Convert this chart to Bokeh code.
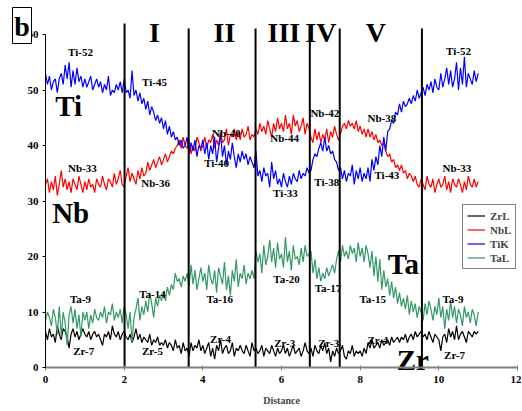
from bokeh.plotting import figure
from bokeh.models import Range1d, LinearAxis, FixedTicker, Legend, LegendItem
from bokeh.core.properties import value
from bokeh.embed import file_html
from bokeh.resources import INLINE

# ---- data (sampled every 0.05 of Distance, from 0 to 11) ----
step = 0.05
zr_l = [6.5, 5, 7, 5.5, 6, 4.5, 7.5, 6, 5, 7, 6.5, 5.5, 3.5, 6, 7, 5.5, 6.5, 5, 6, 7,
        6, 5.5, 6.5, 5, 6, 6.5, 5.5, 6, 5, 4, 6, 5.5, 6.5, 5, 7.5, 6, 5.5, 6.5, 5, 6,
        6.5, 5.5, 5, 6, 4.5, 5.5, 7, 5, 6, 4.5, 5.5, 5, 4.5, 6, 4, 5, 4.5, 5.5, 4, 4.5,
        4, 5, 3.5, 4.5, 4, 3, 5, 3.5, 4, 2.5, 4.5, 3, 3.5, 2, 4.5, 3, 4, 3.5, 5, 3,
        4, 2.5, 3.5, 4.5, 2, 3.5, 1.5, 4, 3, 5, 2.5, 3.5, 4, 2.5, 3, 4.5, 2, 3.5, 3, 4,
        3, 2.5, 4, 3, 2, 4.5, 3, 3.5, 2.5, 3, 4, 2, 3.5, 3, 2.5, 4, 3, 2, 3.5, 2.5,
        3, 4, 2.5, 3.5, 2, 3, 4, 2.5, 3, 3.5, 2, 3, 4.5, 3, 2.5, 3.5, 2, 4, 3, 2.5,
        4, 3, 4.5, 2.5, 3.5, 1, 3, 2, 3.5, 2.5, 3, 4, 2, 1.5, 3, 2.5, 4, 2, 3, 2.5,
        3, 2, 3.5, 2.5, 4.5, 3.5, 5, 3.5, 4, 4.5, 3.5, 5, 4, 4.5, 5, 4, 5.5, 4.5, 5, 5.5,
        4.5, 5.5, 5, 6, 4.5, 5.5, 6, 5, 6.5, 5.5, 6, 6.5, 5.5, 6, 5, 6.5, 5.5, 4.5, 6, 5.5,
        5, 3, 5.5, 6, 4.5, 7, 5.5, 6.5, 5, 7.5, 5, 6, 6.5, 5.5, 4.5, 6.5, 6, 5.5, 6.5, 6,
        6.5]
nb_l = [33, 34, 31.5, 33.5, 32, 34.5, 31, 33, 35.5, 32.5, 34, 32, 33.5, 31.5, 34, 33, 32, 34.5, 33, 31.5,
        33.5, 32, 34, 32.5, 33, 31.5, 34, 33, 32.5, 34.5, 33, 32, 34, 33.5, 32.5, 35, 33, 34, 35.5, 33,
        32.5, 34.5, 36, 33.5, 35, 34, 33, 35.5, 34, 36, 34.5, 35, 37, 35.5, 36.5, 37.5, 36, 37, 38, 36.5,
        37.5, 38.5, 37, 38, 39, 38.5, 39.5, 40, 41, 39.5, 41.5, 40, 39.5, 41, 38.5, 40, 39, 41.5, 40.5, 39,
        40, 41.5, 39.5, 41, 40.5, 42, 39.5, 41, 40, 42.5, 40.5, 41, 43, 40, 42, 41.5, 43, 41, 42.5, 41,
        43, 41.5, 42, 43.5, 41, 42, 41.5, 43, 42, 44, 42.5, 43.5, 42, 44.5, 43, 41.5, 44, 42.5, 45, 43,
        44, 42.5, 45.5, 43, 44, 42, 45.5, 43.5, 44.5, 42.5, 43.5, 45, 42, 44, 43, 41.5, 40.5, 43, 41, 42.5,
        40.5, 42, 41, 43, 40.5, 42.5, 41.5, 43.5, 42, 41, 42, 43.5, 44, 43, 44.5, 43.5, 44, 43, 44.5, 42.5,
        43.5, 42, 43, 41.5, 43, 41.5, 42.5, 41, 42, 40.5, 41, 40, 40.5, 39, 38, 38.5, 37, 37.5, 36, 36.5,
        35.5, 36.5, 35, 35.5, 34, 35, 34.5, 33.5, 34.5, 33, 32.5, 34, 33, 32, 34.5, 33, 32.5, 34, 31.5, 33,
        34, 32.5, 33, 34.5, 32, 33.5, 31.5, 34, 33, 32.5, 34, 33, 31.5, 33.5, 32, 34.5, 33, 32.5, 34, 32.5,
        33.5]
ti_k = [53, 51, 52.5, 50, 51.5, 52, 49.5, 52, 53, 51, 54.5, 52, 55, 50.5, 53.5, 51, 54, 51.5, 52.5, 50.5,
        52, 50.5, 51.5, 52.5, 50, 51, 52, 50.5, 51.5, 49.5, 51, 50, 52.5, 49, 50, 49.5, 51, 50, 51.5, 49.5,
        52, 49.5, 50, 48.5, 53.5, 49, 50, 48, 49.5, 47.5, 48.5, 46.5, 48, 45.5, 47, 46, 44.5, 45.5, 44, 45,
        43, 44.5, 42, 43.5, 41.5, 42.5, 41, 41.5, 40, 41, 39.5, 40, 41.5, 38.5, 40.5, 39, 41, 38, 40, 39.5,
        41, 38.5, 40.5, 37.5, 40, 38.5, 41.5, 37, 39.5, 42, 38, 40, 36.5, 39, 37.5, 40.5, 38, 36, 38.5, 37,
        39, 37.5, 38.5, 36.5, 38, 37, 36, 39, 34.5, 35.5, 33.5, 36, 34.5, 35, 32.5, 37, 34, 35.5, 33, 34,
        32.5, 35, 33.5, 32.5, 34.5, 33, 35, 34, 33.5, 35.5, 34, 35, 34.5, 36, 35, 35.5, 37.5, 38.5, 38, 39.5,
        40.5, 39, 41.5, 39, 40, 38.5, 39, 37.5, 37, 35.5, 36, 34, 35.5, 33.5, 35, 34.5, 36.5, 33, 35.5, 34,
        36, 33.5, 35, 34, 36, 33.5, 37.5, 35.5, 38, 36.5, 40, 38, 41.5, 39, 42.5, 43, 44.5, 44, 46, 45.5,
        47.5, 46, 48, 47, 47.5, 48.5, 47.5, 49, 48, 50, 48.5, 49.5, 50.5, 49, 51, 50, 51.5, 49.5, 52, 50.5,
        50, 53, 50.5, 52, 54, 51, 53.5, 50.5, 52, 55, 50, 54, 51, 56, 50.5, 53, 52, 51, 53.5, 51.5,
        53]
ta_l = [8.5, 10, 9, 7.5, 10.5, 9, 6, 11, 5.5, 10, 8, 4, 9.5, 11, 8, 10.5, 7, 9.5, 5.5, 10,
        8.5, 10, 7, 9.5, 8, 10.5, 9, 8.5, 10, 9, 11, 8, 10, 9.5, 11.5, 8.5, 10, 9, 10.5, 8,
        11, 9.5, 7, 10, 4.5, 9, 10.5, 12.5, 8.5, 11, 9.5, 12, 10, 13.5, 11.5, 9, 12.5, 11, 13, 12,
        13.5, 12, 14.5, 13, 15, 14, 17, 15.5, 16, 14.5, 16.5, 15.5, 17, 14.5, 18.5, 15, 17.5, 14, 16, 18,
        15.5, 17, 14, 18.5, 16, 15, 17.5, 13.5, 18, 16.5, 15, 19, 14, 16.5, 13, 17.5, 15.5, 19.5, 14.5, 17,
        16, 18.5, 15, 17, 16, 17.5, 16, 21, 19, 20.5, 17, 22, 18.5, 20, 23, 19, 21.5, 18, 22.5, 19.5,
        20.5, 18, 23.5, 19, 21, 17.5, 22, 19.5, 20, 18.5, 21.5, 19, 22, 20, 20.5, 21, 17, 19.5, 16, 18,
        15.5, 17, 16, 18, 16.5, 17.5, 18.5, 17, 19.5, 21, 19, 22, 20, 21, 19.5, 22, 20.5, 21.5, 19, 22.5,
        20, 21.5, 19, 22, 20.5, 18, 21, 16.5, 20, 15.5, 19.5, 14, 17.5, 14.5, 16, 13, 15.5, 12.5, 14.5, 11.5,
        13.5, 11, 12.5, 10.5, 13, 9.5, 12, 10, 11.5, 9, 11, 10, 8.5, 11.5, 9.5, 12, 10.5, 8.5, 11, 9.5,
        12.5, 9, 11, 7, 10.5, 8.5, 12, 9, 11, 8, 10.5, 9.5, 7.5, 11, 9, 10, 8, 10.5, 9.5, 7.5,
        10]

series_names = ["ZrL", "NbL", "TiK", "TaL"]
series_vals = [zr_l, nb_l, ti_k, ta_l]
series_colors = ["#000000", "#ff0000", "#0000ff", "#339966"]

# zone boundaries and labels
zone_bounds = [2.01, 3.64, 5.34, 6.72, 7.48, 9.57]
zone_tops = [62.0, 61.1, 61.1, 61.1, 61.1, 61.1]
zone_names = ["I", "II", "III", "IV", "V"]
zone_name_x = [2.77, 4.55, 6.06, 7.0, 8.4]

# point annotations
ann_text = ["Ti-52", "Ti-45", "Nb-40", "Ti-40", "Nb-33", "Nb-36", "Nb-44", "Ti-33",
            "Nb-42", "Ti-38", "Nb-38", "Ti-43", "Ti-52", "Nb-33",
            "Ta-9", "Ta-14", "Ta-16", "Ta-20", "Ta-17", "Ta-15", "Ta-9",
            "Zr-7", "Zr-5", "Zr-4", "Zr-3", "Zr-3", "Zr-4", "Zr-7"]
ann_x = [0.89, 2.77, 4.6, 4.35, 0.94, 2.8, 6.08, 6.1,
         7.1, 7.15, 8.55, 8.68, 10.5, 10.46,
         0.89, 2.72, 4.43, 6.13, 7.18, 8.32, 10.36,
         0.97, 2.72, 4.45, 6.08, 7.2, 8.45, 10.4]
ann_y = [56.8, 51.4, 42.2, 36.8, 36.0, 33.3, 41.3, 31.4,
         45.9, 33.5, 44.9, 34.6, 57.1, 35.9,
         12.3, 13.3, 12.3, 15.9, 14.4, 12.4, 12.3,
         2.9, 2.9, 5.2, 4.5, 4.5, 5.0, 2.2]

big_text = ["Ti", "Nb", "Ta", "Zr"]
big_x = [0.59, 0.64, 9.1, 9.34]
big_y = [47.2, 27.9, 18.6, 1.3]

panel_letter = "b"

SERIF = value("Liberation Serif")
PX_X = 39.33   # pixels per Distance unit
PX_Y = 5.55    # pixels per y unit
W, H = 521, 410  # canvas = frame
AX0 = 45       # canvas px of Distance = 0
X12 = 517      # canvas px of Distance = 12
Y0 = 367       # canvas px of y = 0

p = figure(frame_width=W, frame_height=H, min_border_left=0, min_border_right=0,
           min_border_top=0, min_border_bottom=0,
           x_range=Range1d(-AX0 / PX_X, 12 + (W - X12) / PX_X),
           y_range=Range1d(-(H - Y0) / PX_Y, Y0 / PX_Y),
           output_backend="svg", toolbar_location=None, x_axis_location=None, y_axis_location=None)
p.grid.visible = False
p.outline_line_color = None
p.background_fill_color = "white"

xaxis = LinearAxis(ticker=FixedTicker(ticks=[0, 2, 4, 6, 8, 10, 12]), axis_label="Distance",
                   bounds=(0, 12), fixed_location=0)
xaxis.axis_line_color = "#808080"
xaxis.axis_line_width = 2
xaxis.major_tick_line_color = "#808080"
xaxis.major_tick_out = 3
xaxis.major_tick_in = 2
xaxis.minor_tick_line_color = None
xaxis.major_label_text_font = "Liberation Serif"
xaxis.major_label_text_font_style = "bold"
xaxis.major_label_text_font_size = "11px"
xaxis.major_label_text_color = "black"
xaxis.major_label_standoff = 5
xaxis.axis_label_text_font = "Liberation Serif"
xaxis.axis_label_text_font_style = "bold"
xaxis.axis_label_text_font_size = "10px"
xaxis.axis_label_standoff = 9
p.add_layout(xaxis, "below")

yaxis = LinearAxis(ticker=FixedTicker(ticks=[0, 10, 20, 30, 40, 50, 60]), bounds=(0, 60),
                   fixed_location=0)
yaxis.axis_line_color = "black"
yaxis.axis_line_width = 1
yaxis.major_tick_line_color = "black"
yaxis.major_tick_out = 3
yaxis.major_tick_in = 0
yaxis.minor_tick_line_color = None
yaxis.major_label_text_font = "Liberation Serif"
yaxis.major_label_text_font_style = "bold"
yaxis.major_label_text_font_size = "11px"
yaxis.major_label_text_color = "black"
yaxis.major_label_standoff = 4
p.add_layout(yaxis, "left")

items = []
for name, vals, col in zip(series_names, series_vals, series_colors):
    xs = [round(i * step, 2) for i in range(len(vals))]
    r = p.line(xs, vals, line_color=col, line_width=1.2)
    items.append(LegendItem(label=name, renderers=[r]))

p.segment(x0=zone_bounds, y0=[0] * len(zone_bounds), x1=zone_bounds, y1=zone_tops,
          line_color="black", line_width=2)

p.text(x=zone_name_x, y=[60.4] * len(zone_name_x), text=zone_names, text_font=SERIF,
       text_font_style="bold", text_font_size="28px", text_align="center",
       text_baseline="middle", text_color="black")
p.text(x=ann_x, y=ann_y, text=ann_text, text_font=SERIF, text_font_style="bold",
       text_font_size="11px", text_align="center", text_baseline="middle", text_color="black")
p.text(x=big_x, y=big_y, text=big_text, text_font=SERIF, text_font_style="bold",
       text_font_size="29px", text_align="center", text_baseline="middle", text_color="black")

# panel letter in a box, drawn above the y axis labels
bx0, bx1 = (12 - AX0) / PX_X, (31 - AX0) / PX_X
by0, by1 = (Y0 - 43) / PX_Y, (Y0 - 7) / PX_Y
p.quad(left=[bx0], right=[bx1], bottom=[by0], top=[by1], fill_color="white",
       line_color="black", line_width=1, level="annotation")
p.text(x=[(bx0 + bx1) / 2], y=[(Y0 - 26) / PX_Y], text=[panel_letter], text_font=SERIF,
       text_font_style="bold", text_font_size="28px", text_align="center",
       text_baseline="middle", text_color="black", level="annotation")

legend = Legend(items=items, location=(462, H - 269), border_line_color="black",
                border_line_width=1, label_text_font="Liberation Serif",
                label_text_font_style="bold", label_text_font_size="11px", glyph_width=18,
                glyph_height=13, label_height=13, label_standoff=5, spacing=1, padding=4,
                margin=0, background_fill_alpha=1)
p.add_layout(legend, "center")

open("out.html", "w").write(file_html(p, INLINE))
